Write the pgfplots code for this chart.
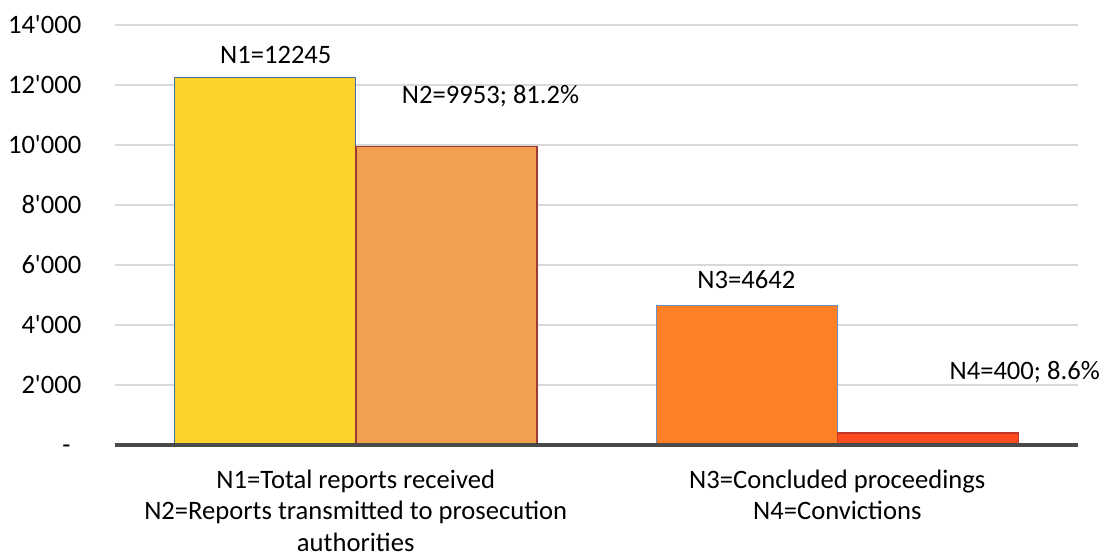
\documentclass[border=0pt]{standalone}
\usepackage{fontspec}
\setmainfont{Carlito}[Ligatures=TeXOff]
\usepackage{pgfplots}
\pgfplotsset{compat=1.18}
\definecolor{cN1}{HTML}{FDD22B}
\definecolor{bN1}{HTML}{3F6DA6}
\definecolor{cN2}{HTML}{F1A04F}
\definecolor{bN2}{HTML}{A03A35}
\definecolor{cN3}{HTML}{FF7F27}
\definecolor{bN3}{HTML}{6F8FC0}
\definecolor{cN4}{HTML}{FF4C1E}
\definecolor{bN4}{HTML}{C0392B}
\definecolor{gridc}{HTML}{D9D9D9}
\definecolor{axisc}{HTML}{4A4A4A}
\begin{document}
\begin{tikzpicture}
\fontsize{10}{11.7}\selectfont
\begin{axis}[
  scale only axis,
  width=362.1pt, height=157.9pt,
  xmin=-0.5, xmax=1.5,
  ymin=0, ymax=14000,
  axis line style={draw=none},
  axis x line*=bottom,
  axis y line*=left,
  scaled y ticks=false,
  ytick={0,2000,4000,6000,8000,10000,12000,14000},
  yticklabels={-\hspace{4.1pt}\vphantom{0}, 2'000, 4'000, 6'000, 8'000, 10'000, 12'000, 14'000},
  yticklabel style={font=\fontsize{10}{12}\selectfont, xshift=-9.1pt},
  xtick={0,1},
  xticklabels={N1=Total reports received\\N2=Reports transmitted to prosecution\\authorities, N3=Concluded proceedings\\N4=Convictions},
  xticklabel style={align=center, font=\fontsize{10}{11.7}\selectfont, yshift=-6pt},
  major tick length=0pt,
  ymajorgrids,
  grid style={gridc, line width=0.8pt},
  /pgf/number format/assume math mode=true,
  clip=false,
]
\addplot[ybar, bar width=0.376, bar shift=-0.188, fill=cN1, draw=bN1, line width=0.5pt] coordinates {(0,12245)};
\addplot[ybar, bar width=0.376, bar shift=0.188, fill=cN2, draw=bN2, line width=0.6pt] coordinates {(0,9953)};
\addplot[ybar, bar width=0.376, bar shift=-0.188, fill=cN3, draw=bN3, line width=0.5pt] coordinates {(1,4642)};
\addplot[ybar, bar width=0.376, bar shift=0.188, fill=cN4, draw=bN4, line width=0.6pt] coordinates {(1,400)};
\draw[axisc, line width=1.2pt] (axis cs:-0.5,0) -- (axis cs:1.5,0);
\node at (axis cs:-0.166,13000) {N1=12245};
\node at (axis cs:0.280,11633) {N2=9953; 81.2\%};
\node at (axis cs:0.811,5500) {N3=4642};
\node at (axis cs:1.389,2433) {N4=400; 8.6\%};
\end{axis}
\pgfresetboundingbox
\path[use as bounding box] (-43.2pt,-41.0pt) rectangle (370.7pt,167.3pt);
\end{tikzpicture}
\end{document}
